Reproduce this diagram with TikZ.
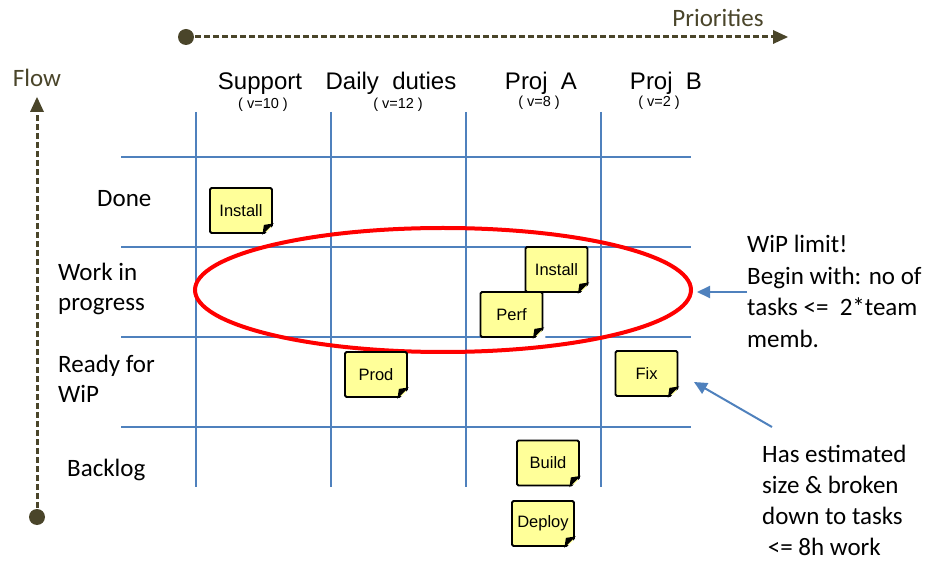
\documentclass[tikz,border=0pt]{standalone}
\usepackage{fontspec}
\setmainfont{Carlito}
\newfontfamily\arialfont{Liberation Sans}
\usetikzlibrary{arrows.meta}
\definecolor{gridblue}{HTML}{4F81BD}
\definecolor{olivedark}{HTML}{4A452A}
\definecolor{noteyellow}{HTML}{FFFF99}
\tikzset{
  gridline/.style={gridblue, line width=2pt},
  axisline/.style={olivedark, line width=3pt, dash pattern=on 6pt off 3pt},
  axistip/.style={fill=olivedark},
  axisdot/.style={fill=olivedark},
  axislabel/.style={olivedark, font=\fontsize{25}{30}\selectfont, inner sep=0pt},
  lbl/.style={font=\fontsize{25}{30}\selectfont, inner sep=0pt, align=left, anchor=base west},
  hdr/.style={font=\arialfont\fontsize{24}{28}\selectfont, inner sep=0pt, anchor=base},
  sub/.style={font=\arialfont\fontsize{14.5}{17}\selectfont, inner sep=0pt},
  note/.style={draw=black, line width=1.8pt, fill=noteyellow, rounded corners=1.5pt,
    minimum width=62pt, minimum height=45pt, inner sep=0pt,
    font=\arialfont\fontsize{16.5}{18}\selectfont},
  callout/.style={gridblue, line width=2pt, -{Triangle[length=13pt,width=12pt]}},
  wip/.style={red, line width=4pt}
}
\newcommand\notefold[1]{%
  \fill[white] ([xshift=-10pt,yshift=-2pt]#1.south east) -- ([xshift=2pt,yshift=-2pt]#1.south east) -- ([xshift=2pt,yshift=10pt]#1.south east) -- cycle;
  \fill[black] ([xshift=-10.5pt,yshift=-0.9pt]#1.south east) -- ([xshift=0.9pt,yshift=10.5pt]#1.south east) -- ([xshift=-9pt,yshift=9pt]#1.south east) -- cycle;
}
\begin{document}
\begin{tikzpicture}[x=1pt,y=-1pt]
\useasboundingbox (0,0) rectangle (930,561);
% grid
\foreach \gx in {196,331,466,601} \draw[gridline] (\gx,112) -- (\gx,487);
\foreach \gy in {157,247,337,427} \draw[gridline] (121,\gy) -- (691,\gy);
% axes
\coordinate (flowstart) at (37,517);
\coordinate (flowend) at (37,97);
\coordinate (priostart) at (186,37);
\coordinate (prioend) at (788,37);
\fill[axisdot] (flowstart) circle (8);
\fill[axisdot] (priostart) circle (8);
\draw[axisline] (flowstart) -- ([yshift=-13pt]flowend);
\draw[axisline] (priostart) -- ([xshift=-13pt]prioend);
\fill[axistip] (flowend) -- ([shift={(-7pt,-15pt)}]flowend) -- ([shift={(7pt,-15pt)}]flowend) -- cycle;
\fill[axistip] (prioend) -- ([shift={(-15pt,7pt)}]prioend) -- ([shift={(-15pt,-7pt)}]prioend) -- cycle;
\node[axislabel, anchor=base] (flowlbl) at (37,87) {Flow};
\node[axislabel, anchor=base] (priolbl) at (718,27) {Priorities};
% headers
\node[hdr] (hsupport) at (260,90) {Support};
\node[hdr] (hdaily) at (391,90) {Daily\ \ duties};
\node[hdr] (hproja) at (541,90) {Proj\ \ A};
\node[hdr] (hprojb) at (666,90) {Proj\ \ B};
\node[sub] (vsupport) at (263,105) {(\hspace{4pt}v=10\hspace{4pt})};
\node[sub] (vdaily) at (398,105) {(\hspace{4pt}v=12\hspace{4pt})};
\node[sub] (vproja) at (539,103) {(\hspace{4pt}v=8\hspace{4pt})};
\node[sub] (vprojb) at (659,103) {(\hspace{4pt}v=2\hspace{4pt})};
% row labels (anchor = baseline of last line)
\node[lbl] (rdone) at (97,207) {Done};
\node[lbl] (rwip) at (58,311) {Work in\\progress};
\node[lbl] (rready) at (58,403) {Ready for\\WiP};
\node[lbl] (rbacklog) at (67,477) {Backlog};
% WiP ellipse
\draw[wip] (443,290) ellipse [x radius=248, y radius=62];
% notes
\node[note] (n1) at (241,210.5) {Install};
\notefold{n1}
\node[note] (n2) at (556.5,269.5) {Install};
\notefold{n2}
\node[note] (n3) at (511.5,314.5) {Perf};
\notefold{n3}
\node[note] (n4) at (376,374.5) {Prod};
\notefold{n4}
\node[note] (n5) at (646.5,373.5) {Fix};
\notefold{n5}
\node[note] (n6) at (548,463) {Build};
\notefold{n6}
\node[note] (n7) at (543,523.5) {Deploy};
\notefold{n7}
% right texts
\node[lbl, font=\fontsize{25}{31.5}\selectfont] (twip) at (747,347.5) {WiP limit!\\Begin with: no of\\tasks <=\ \ 2*team\\memb.};
\node[lbl, font=\fontsize{25}{31}\selectfont] (test) at (762,555) {Has estimated\\size \& broken\\down to tasks\\\ <= 8h work};
\coordinate (a1s) at (747,292);
\coordinate (a1e) at (697,292);
\coordinate (a2s) at (772,427);
\coordinate (a2e) at (694,382);
\draw[callout] (a1s) -- (a1e);
\draw[callout] (a2s) -- (a2e);
\end{tikzpicture}
\end{document}
